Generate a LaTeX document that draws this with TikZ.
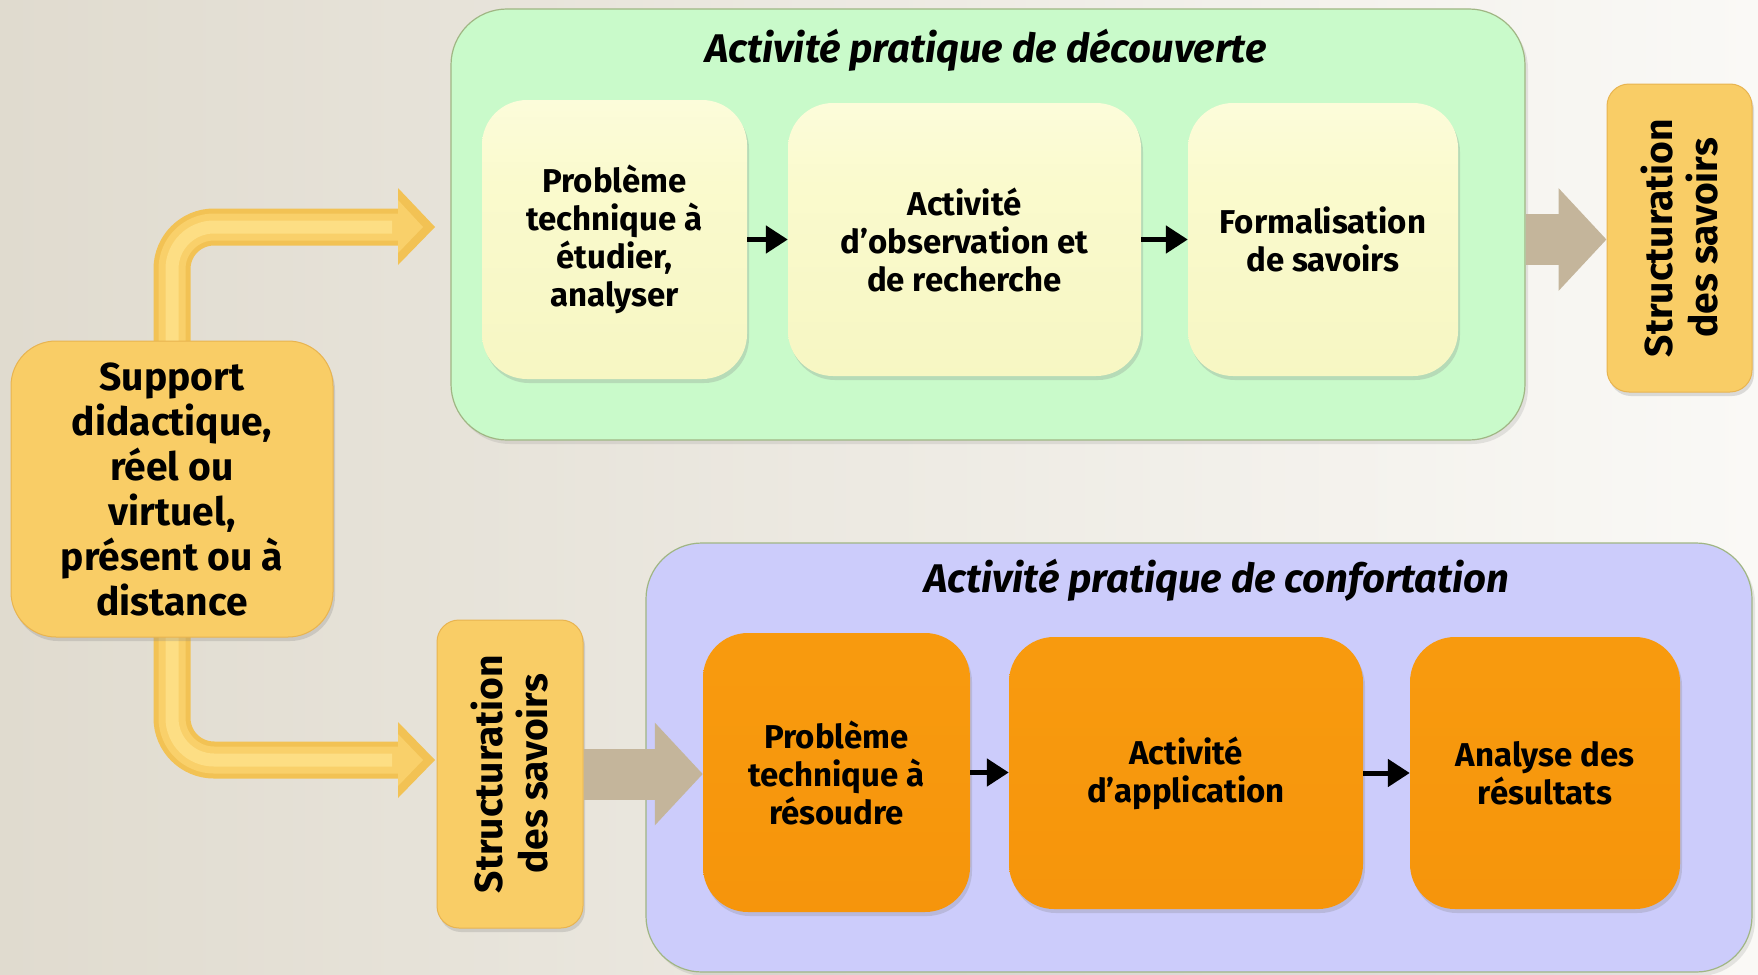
\documentclass[tikz,border=0pt]{standalone}
\usepackage{fontspec}
\setmainfont{Fira Sans}
\usetikzlibrary{arrows.meta,shadows,calc}
\definecolor{bgL}{RGB}{224,219,207}
\definecolor{bgR}{RGB}{250,249,246}
\definecolor{greenC}{RGB}{201,250,202}
\definecolor{blueC}{RGB}{204,204,251}
\definecolor{contB}{RGB}{160,182,132}
\definecolor{paleT}{RGB}{255,255,240}
\definecolor{paleM}{RGB}{250,250,205}
\definecolor{paleB}{RGB}{244,244,188}
\definecolor{orT}{RGB}{252,205,60}
\definecolor{orM}{RGB}{248,154,14}
\definecolor{orB}{RGB}{245,146,10}
\definecolor{goldC}{RGB}{249,205,102}
\definecolor{goldD}{RGB}{232,180,80}
\definecolor{tanA}{RGB}{196,181,155}
\definecolor{ytubeD}{RGB}{242,194,84}
\definecolor{ytubeM}{RGB}{249,208,106}
\definecolor{ytubeL}{RGB}{253,222,132}
\pgfdeclareverticalshading{orshade}{100bp}{color(0bp)=(orB); color(70bp)=(orM); color(92bp)=(orM); color(100bp)=(orT)}
\pgfdeclareverticalshading{paleshade}{100bp}{color(0bp)=(paleB); color(60bp)=(paleM); color(100bp)=(paleT)}
\begin{document}
\begin{tikzpicture}[x=1pt,y=-1pt,
  container/.style={rectangle, rounded corners=56pt, draw=contB, line width=1.2pt,
    drop shadow={opacity=0.18, shadow xshift=3pt, shadow yshift=-4pt}},
  boxtext/.style={align=center, inner sep=0pt, font=\fontsize{33}{38}\selectfont\bfseries},
  palebox/.style={rectangle, rounded corners=45pt, shading=paleshade, boxtext,
    drop shadow={opacity=0.25, shadow xshift=2pt, shadow yshift=-4pt}},
  orbox/.style={rectangle, rounded corners=45pt, shading=orshade, boxtext,
    drop shadow={opacity=0.25, shadow xshift=2pt, shadow yshift=-4pt}},
  goldbox/.style={rectangle, rounded corners=22pt, fill=goldC, draw=goldD, line width=1pt,
    drop shadow={opacity=0.25, shadow xshift=2pt, shadow yshift=-4pt}},
  suptext/.style={align=center, font=\fontsize{39}{45}\selectfont\bfseries},
  sttext/.style={align=center, rotate=90, font=\fontsize{39}{45}\selectfont\bfseries},
  ttl/.style={font=\fontsize{40}{46}\selectfont\bfseries\itshape},
  blk/.style={line width=5pt, -{Triangle[length=22pt,width=27pt]}},
  tanarrow/.style={tanA, line width=51pt, -{Triangle[length=48pt,width=100pt]}},
  tube/.style={ytubeD, line width=37pt, rounded corners=42pt},
  tubemid/.style={ytubeM, line width=27pt, rounded corners=42pt},
  tubehl/.style={ytubeL, line width=13pt, rounded corners=42pt}
]
\fill[left color=bgL, right color=bgR] (0,0) rectangle (1758,974);
\useasboundingbox (0,0) rectangle (1758,974);

% containers
\node[container, fill=greenC, minimum width=1074pt, minimum height=431pt] (green) at (988,224.5) {};
\node[container, fill=blueC, minimum width=1106pt, minimum height=429pt] (blue) at (1199,757.5) {};
\node[ttl] (t1) at (986,50) {Activité pratique de découverte};
\node[ttl] (t2) at (1217,580) {Activité pratique de confortation};

% coordinates for bent arrows
\coordinate (ya) at (398,227);
\coordinate (yat) at (435,227);
\coordinate (yb) at (398,760);
\coordinate (ybt) at (435,760);
\coordinate (supc) at (172,489);

% bent yellow arrows (under the support box)
\draw[tube] (supc) |- (ya);
\draw[tubemid] (supc) |- (ya);
\draw[tubehl] (supc) |- ($(ya)+(-6,0)$);
\fill[ytubeD] ($(ya)+(0,-39)$) -- (yat) -- ($(ya)+(0,38)$) -- cycle;
\fill[ytubeM] ($(ya)+(0,-27)$) -- ($(yat)+(-12,0)$) -- ($(ya)+(0,26)$) -- cycle;
\draw[tube] (supc) |- (yb);
\draw[tubemid] (supc) |- (yb);
\draw[tubehl] (supc) |- ($(yb)+(-6,0)$);
\fill[ytubeD] ($(yb)+(0,-38)$) -- (ybt) -- ($(yb)+(0,38)$) -- cycle;
\fill[ytubeM] ($(yb)+(0,-26)$) -- ($(ybt)+(-12,0)$) -- ($(yb)+(0,26)$) -- cycle;

% support box
\node[goldbox, rounded corners=45pt, minimum width=322pt, minimum height=296pt, suptext] (sup) at (supc)
  {Support\\didactique,\\réel ou\\virtuel,\\présent ou à\\distance};

% top row
\node[palebox, minimum width=265pt, minimum height=279pt] (p1) at (614.5,239.5) {Problème\\technique à\\étudier,\\analyser};
\node[palebox, minimum width=353pt, minimum height=273pt] (p2) at (964.5,239.5) {Activité\\d’observation et\\de recherche};
\node[palebox, minimum width=270pt, minimum height=273pt] (p3) at (1323,239.5) {Formalisation\\de savoirs};
\draw[blk] (p1.east) -- (p2.west);
\draw[blk] (p2.east) -- (p3.west);

% top right structuration
\node[goldbox, minimum width=145pt, minimum height=308pt] (s1) at (1679.5,238) {};
\node[sttext] (s1t) at (s1.center) {Structuration\\des savoirs};
\draw[tanarrow] (p3.east -| green.east) -- (p3.east -| s1.west);

% bottom left structuration
\node[goldbox, minimum width=146pt, minimum height=308pt] (s2) at (510,774) {};
\node[sttext] (s2t) at (s2.center) {Structuration\\des savoirs};

% bottom row
\node[orbox, minimum width=267pt, minimum height=279pt] (q1) at (836.5,772.5) {Problème\\technique à\\résoudre};
\node[orbox, minimum width=354pt, minimum height=272pt] (q2) at (1186,773) {Activité\\d’application};
\node[orbox, minimum width=270pt, minimum height=272pt] (q3) at (1545,773) {Analyse des\\résultats};
\draw[blk] (q1.east) -- (q1.east -| q2.west);
\draw[blk] (q2.east) -- (q2.east -| q3.west);
\draw[tanarrow] (s2.east) -- (s2.east -| q1.west);
\end{tikzpicture}
\end{document}
